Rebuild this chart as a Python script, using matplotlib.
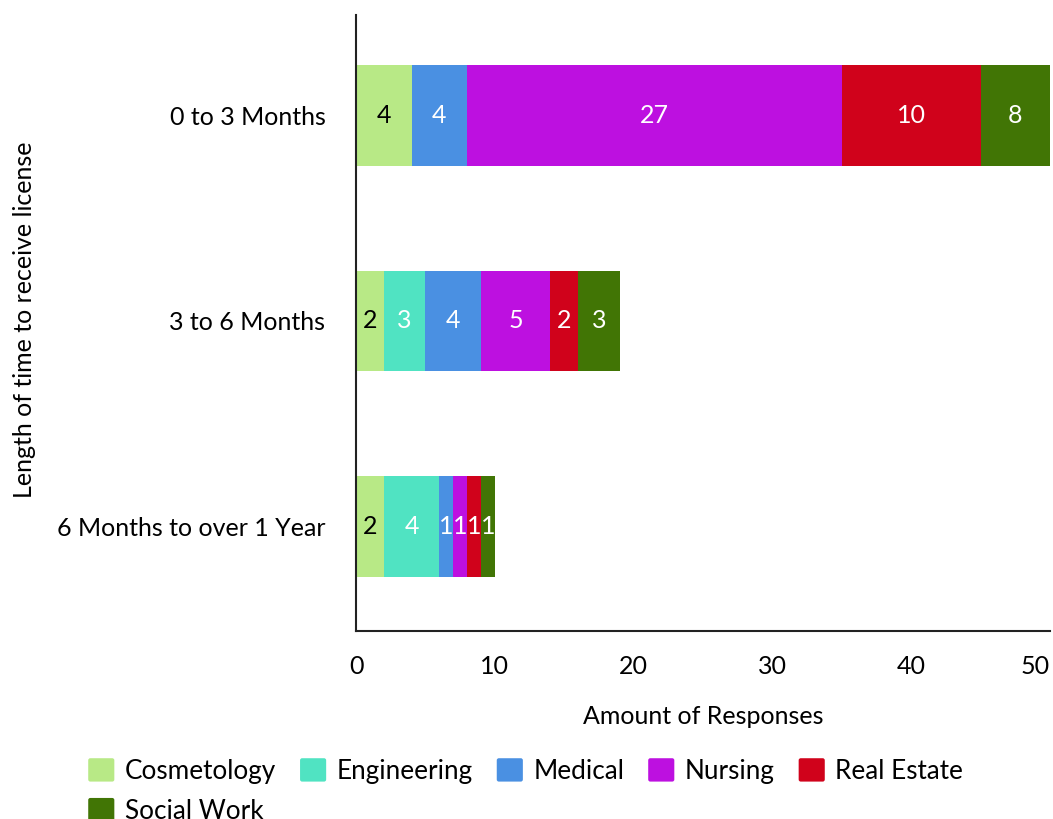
import matplotlib.pyplot as plt
from matplotlib.patches import Patch, FancyBboxPatch
from matplotlib.legend_handler import HandlerPatch

plt.rcParams['font.family'] = ['Lato', 'DejaVu Sans']

# survey responses, stacked by field
periods = ['0 to 3 Months', '3 to 6 Months', '6 Months to over 1 Year']
fields = ['Cosmetology', 'Engineering', 'Medical', 'Nursing', 'Real Estate', 'Social Work']
cosmetology = [4, 2, 2]
engineering = [0, 3, 4]
medical = [4, 4, 1]
nursing = [27, 5, 1]
real_estate = [10, 2, 1]
social_work = [8, 3, 1]
series = [cosmetology, engineering, medical, nursing, real_estate, social_work]

colors = ['#b8e986', '#50e3c2', '#4a90e2', '#bd10e0', '#d0021b', '#417505']
text_colors = ['black', 'white', 'white', 'white', 'white', 'white']


class RoundSwatch(HandlerPatch):
    # legend swatch with slightly rounded corners
    def create_artists(self, legend, orig_handle, xdescent, ydescent,
                       width, height, fontsize, trans):
        p = FancyBboxPatch((-xdescent, -ydescent), width, height,
                           boxstyle='round,pad=0,rounding_size=1.5',
                           facecolor=orig_handle.get_facecolor(),
                           edgecolor='none', transform=trans)
        return [p]


fs = 18
fig = plt.figure(figsize=(10.53, 8.19), dpi=100)
ax = fig.add_axes([356 / 1053, 188 / 819, 694 / 1053, 616 / 819])

xmax = 50
ypos = list(range(len(periods)))
left = [0] * len(periods)
for vals, col, tc in zip(series, colors, text_colors):
    ax.barh(ypos, vals, left=left, height=0.49, color=col)
    for y, l, v in zip(ypos, left, vals):
        if v == 0:
            continue
        # centre the label on the part of the segment that is visible
        xc = (l + min(l + v, xmax)) / 2
        ax.text(xc, y, str(v), ha='center', va='center', color=tc, fontsize=fs)
    left = [a + b for a, b in zip(left, vals)]

ax.set_xlim(0, xmax)
ax.set_ylim(2.51, -0.49)
ax.set_yticks(ypos)
ax.set_yticklabels(periods)
ax.set_xticks([0, 10, 20, 30, 40, 50])
ax.tick_params(length=0, labelsize=fs)
ax.tick_params(axis='y', pad=22)
ax.tick_params(axis='x', pad=17)
# keep the last tick label inside the figure
ax.get_xticklabels()[-1].set_horizontalalignment('right')
for s in ['top', 'right']:
    ax.spines[s].set_visible(False)
for s in ['left', 'bottom']:
    ax.spines[s].set_linewidth(1.5)
    ax.spines[s].set_color('#222222')

ax.set_xlabel('Amount of Responses', fontsize=fs, labelpad=20)
fig.text(25 / 1053, 1 - 320 / 819, 'Length of time to receive license', rotation=90,
         ha='center', va='center', fontsize=fs)

handles = [Patch(facecolor=c, edgecolor='none') for c in colors]
order = [0, 5, 1, 2, 3, 4]
fig.legend([handles[i] for i in order], [fields[i] for i in order],
           handler_map={Patch: RoundSwatch()},
           ncol=5, loc='upper left', bbox_to_anchor=(83 / 1053, 1 - 753 / 819),
           frameon=False, fontsize=18.8, handlelength=1.0, handleheight=1.0,
           handletextpad=0.4, columnspacing=0.92, labelspacing=0.54,
           borderaxespad=0, borderpad=0.2)

fig.savefig('out.png', dpi=100)
